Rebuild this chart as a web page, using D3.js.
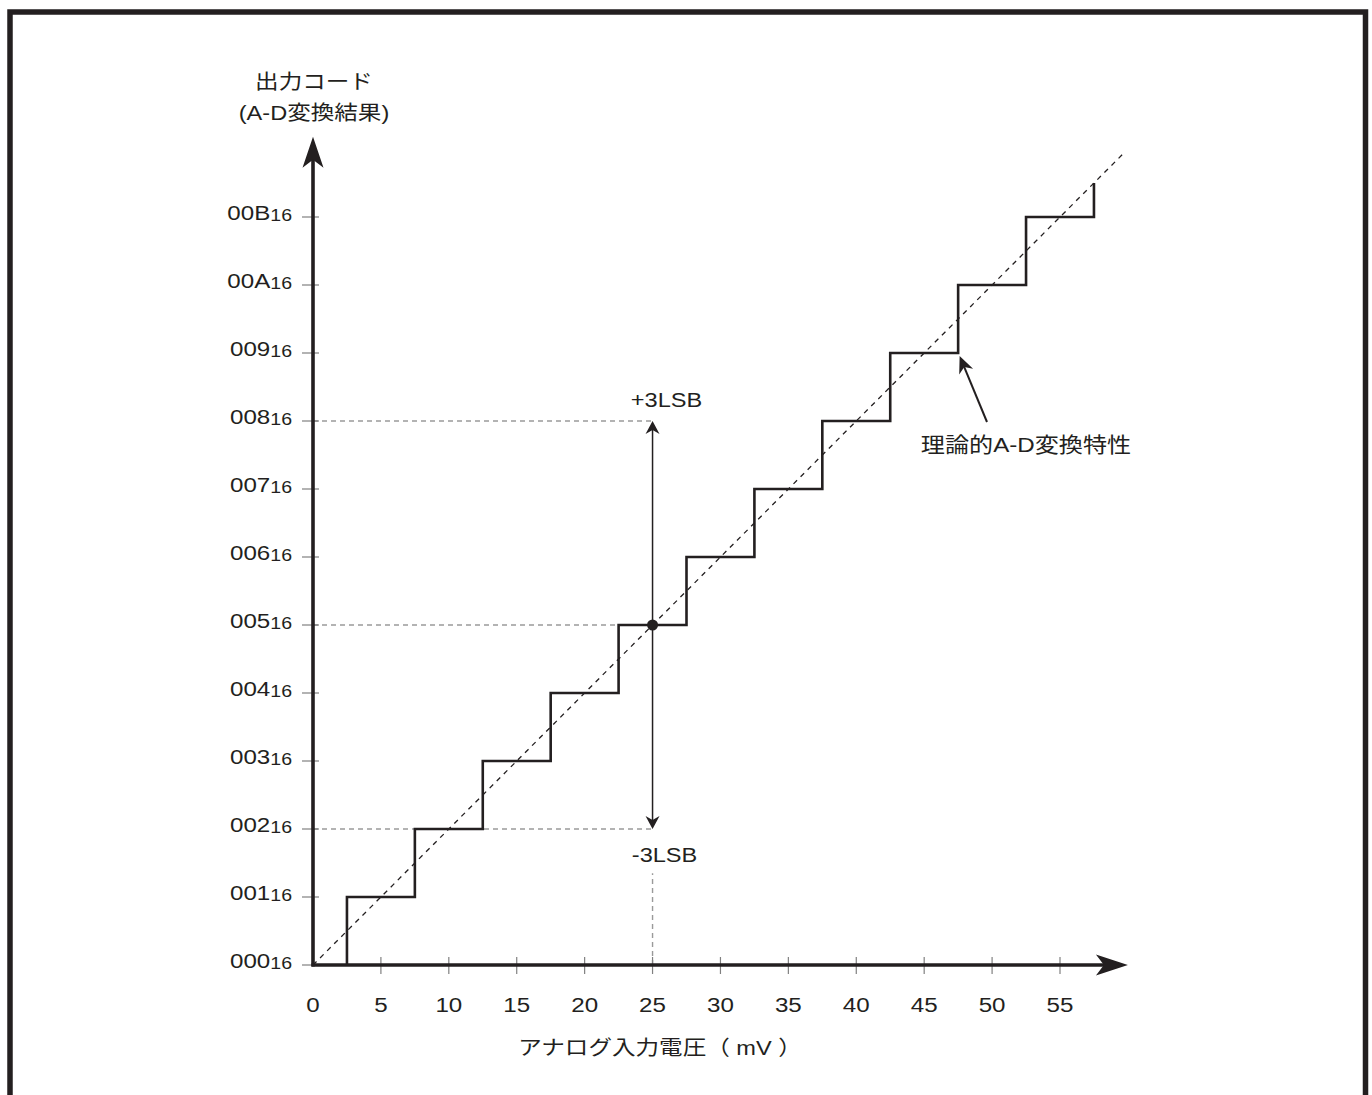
<!DOCTYPE html>
<html><head><meta charset="utf-8">
<script src="https://cdn.jsdelivr.net/npm/d3@7"></script>
<style>
html,body{margin:0;padding:0;background:#fff;}
svg{display:block;}
text{font-family:"Liberation Sans",Arial,"Noto Sans CJK JP",sans-serif;fill:#231f20;}
</style></head>
<body>
<svg id="c" width="1372" height="1095"></svg>
<script>
// ---- data ----
const xTicks = [0,5,10,15,20,25,30,35,40,45,50,55];
const yTickCodes = [0,1,2,3,4,5,6,7,8,9,10,11];
const yTickLabels = ["000","001","002","003","004","005","006","007","008","009","00A","00B"];
const yTickSub = "16";
const stairX = [2.5,7.5,12.5,17.5,22.5,27.5,32.5,37.5,42.5,47.5,52.5,57.5,57.5];
const stairCode = [0,1,2,3,4,5,6,7,8,9,10,11,11.5];
const idealX = [0,59.6];
const idealCode = [0,11.92];
const refCodes = [2,5,8];
const refX = 25;
const centerCode = 5;
const errPlus = 3, errMinus = 3;
const axisMaxX = 60, axisMaxCode = 12.18;
const annotTipX = 47.5, annotTipCode = 9;
const yTitle = ["出力コード","(A-D変換結果)"];
const xTitle = "アナログ入力電圧（ mV ）";
const annotText = "理論的A-D変換特性";
const plusLabel = "+3LSB", minusLabel = "-3LSB";

// ---- drawing ----
const svg = d3.select("#c");
const ink = "#231f20";
const SX = 1.15;
const x = d3.scaleLinear().domain([0,55]).range([313,1060]);
const y = d3.scaleLinear().domain([0,11]).range([965,217]);

function label(px, py, str, size, anchor){
  const g = svg.append("g").attr("transform",`translate(${px},${py}) scale(${SX},1)`);
  return g.append("text").attr("text-anchor",anchor||"middle").attr("font-size",size).text(str);
}
function arrowHead(tx, ty, dx, dy, len, half, notch, fill){
  const n = Math.hypot(dx,dy); const ux=dx/n, uy=dy/n;
  const px=-uy, py=ux;
  const pts = [
    [tx,ty],
    [tx+ux*len+px*half, ty+uy*len+py*half],
    [tx+ux*notch, ty+uy*notch],
    [tx+ux*len-px*half, ty+uy*len-py*half]
  ];
  svg.append("path").attr("d","M"+pts.map(p=>p.join(",")).join("L")+"Z").attr("fill",fill||ink);
}

// frame
svg.append("path").attr("d","M10,1095V12H1365.5V1095").attr("fill","none").attr("stroke",ink).attr("stroke-width",5.5);

// reference dashed lines
refCodes.forEach(c=>{
  svg.append("line").attr("x1",x(0)).attr("x2",x(refX)).attr("y1",y(c)).attr("y2",y(c))
    .attr("stroke","#9a9a9a").attr("stroke-width",1.4).attr("stroke-dasharray","5,4");
});
svg.append("line").attr("x1",x(refX)).attr("x2",x(refX)).attr("y1",y(0)).attr("y2",y(1.35))
  .attr("stroke","#9a9a9a").attr("stroke-width",1.4).attr("stroke-dasharray","5,4");

// ticks
yTickCodes.forEach(c=>{
  svg.append("line").attr("x1",x(0)-11).attr("x2",x(0)+6).attr("y1",y(c)).attr("y2",y(c))
    .attr("stroke","#808080").attr("stroke-width",1.2);
});
xTicks.forEach(v=>{
  if(v===0) return;
  svg.append("line").attr("x1",x(v)).attr("x2",x(v)).attr("y1",y(0)-8).attr("y2",y(0)+9)
    .attr("stroke","#808080").attr("stroke-width",1.2);
});

// ideal dashed diagonal
const line = d3.line().x(d=>x(d[0])).y(d=>y(d[1]));
svg.append("path").datum(idealX.map((v,i)=>[v,idealCode[i]])).attr("d",line)
  .attr("fill","none").attr("stroke",ink).attr("stroke-width",1.3).attr("stroke-dasharray","5,5");

// staircase
const stair = d3.line().x(d=>x(d[0])).y(d=>y(d[1])).curve(d3.curveStepBefore);
svg.append("path").datum(stairX.map((v,i)=>[v,stairCode[i]])).attr("d",stair)
  .attr("fill","none").attr("stroke",ink).attr("stroke-width",2.6).attr("stroke-linejoin","miter");

// axes
svg.append("line").attr("x1",x(0)).attr("x2",x(0)).attr("y1",y(0)+1.5).attr("y2",y(axisMaxCode)+20)
  .attr("stroke",ink).attr("stroke-width",3.6);
svg.append("line").attr("x1",x(0)-1.5).attr("x2",x(axisMaxX)-20).attr("y1",y(0)).attr("y2",y(0))
  .attr("stroke",ink).attr("stroke-width",3.6);
arrowHead(x(0), y(axisMaxCode), 0, 1, 31, 10.5, 23);
arrowHead(x(axisMaxX), y(0), -1, 0, 32, 10.5, 24);

// error range arrow
const ex = x(refX);
svg.append("line").attr("x1",ex).attr("x2",ex).attr("y1",y(centerCode+errPlus)+6).attr("y2",y(centerCode-errMinus)-6)
  .attr("stroke",ink).attr("stroke-width",1.5);
arrowHead(ex, y(centerCode+errPlus), 0, 1, 13, 7, 9);
arrowHead(ex, y(centerCode-errMinus), 0, -1, 13, 7, 9);
svg.append("circle").attr("cx",ex).attr("cy",y(centerCode)).attr("r",5.5).attr("fill",ink);

// annotation arrow
const atx = x(annotTipX)+1.5, aty = y(annotTipCode)+3;
const tailX = 987, tailY = 422;
svg.append("line").attr("x1",tailX).attr("y1",tailY).attr("x2",atx+(tailX-atx)*0.15).attr("y2",aty+(tailY-aty)*0.15)
  .attr("stroke",ink).attr("stroke-width",2);
arrowHead(atx, aty, tailX-atx, tailY-aty, 17, 7.5, 12);
label(1026, 452, annotText, 21);

// +/- labels
label(ex+14, 407, plusLabel, 20.5);
label(ex+12, 862, minusLabel, 20.5);

// y tick labels
yTickCodes.forEach((c,i)=>{
  const t = label(292, y(c)+2.5, "", 21, "end");
  t.append("tspan").text(yTickLabels[i]);
  t.append("tspan").attr("font-size",17).attr("dy",1).text(yTickSub);
});

// x tick labels
xTicks.forEach(v=>{ label(x(v), 1012, String(v), 21); });

// titles
label(x(0)+1, 89, yTitle[0], 20.5);
label(x(0)+1, 120, yTitle[1], 20.5);
label(660, 1055, xTitle, 20.5);
</script>
</body></html>
